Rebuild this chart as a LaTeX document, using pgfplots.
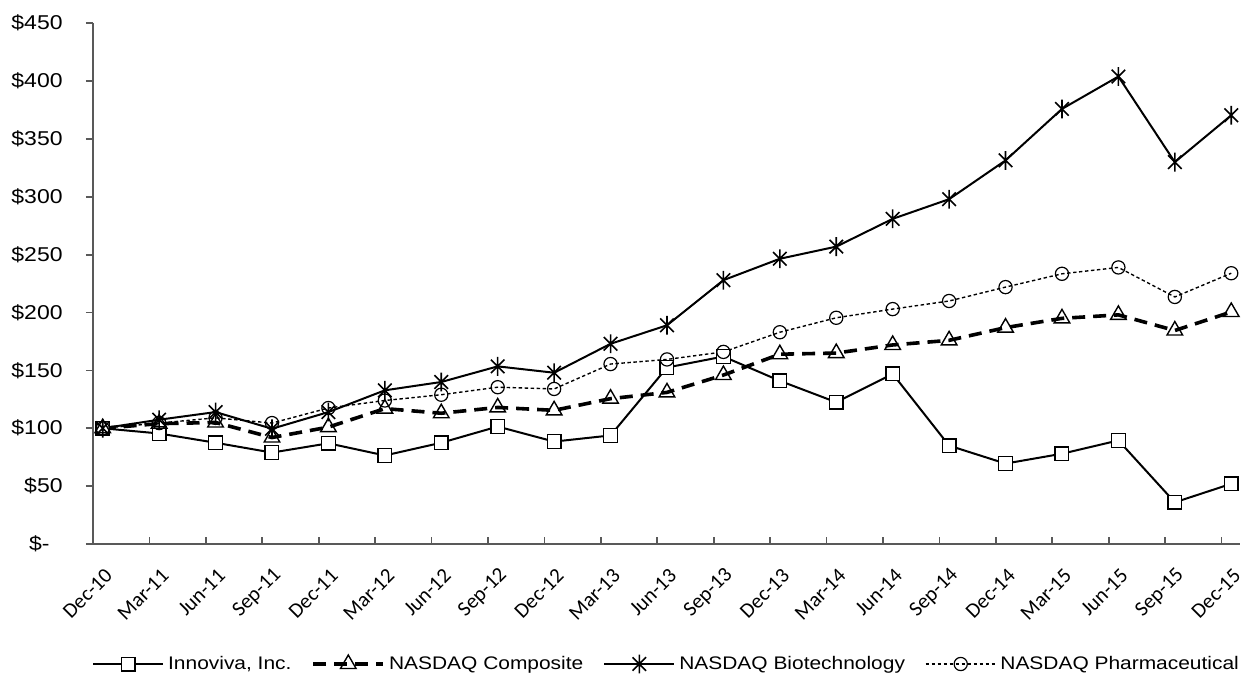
\documentclass[border=0pt]{standalone}
\usepackage{pgfplots}
\pgfplotsset{compat=1.18}
\usepackage{fontspec}
\setmainfont{Liberation Sans}
\newfontfamily\widesans[FakeStretch=1.15]{Liberation Sans}
\newfontfamily\carl{Carlito}
\definecolor{axisgray}{HTML}{595959}
% Excel-style star: a vertical bar crossed by an X
\pgfdeclareplotmark{xstar}{%
  \pgfpathmoveto{\pgfqpoint{0pt}{\pgfplotmarksize}}%
  \pgfpathlineto{\pgfqpoint{0pt}{-\pgfplotmarksize}}%
  \pgfpathmoveto{\pgfqpoint{-0.72\pgfplotmarksize}{0.72\pgfplotmarksize}}%
  \pgfpathlineto{\pgfqpoint{0.72\pgfplotmarksize}{-0.72\pgfplotmarksize}}%
  \pgfpathmoveto{\pgfqpoint{-0.72\pgfplotmarksize}{-0.72\pgfplotmarksize}}%
  \pgfpathlineto{\pgfqpoint{0.72\pgfplotmarksize}{0.72\pgfplotmarksize}}%
  \pgfusepathqstroke}

\begin{document}
\begin{tikzpicture}
\begin{axis}[
    at={(0,0)}, anchor=south west,
    scale only axis,
    width=573.5pt, height=260.35pt,
    xmin=-0.172, xmax=20.155,
    ymin=0, ymax=450,
    axis x line*=bottom, axis y line*=left,
    axis line style={axisgray, line width=1pt},
    tick align=inside,
    major tick length=3.5pt,
    every tick/.style={axisgray, line width=0.9pt},
    ytick style={xshift=-3.5pt},
    xtick={-0.172,0.828,1.828,2.828,3.828,4.828,5.828,6.828,7.828,8.828,9.828,10.828,11.828,12.828,13.828,14.828,15.828,16.828,17.828,18.828,19.828},
    xticklabels={Dec-10,Mar-11,Jun-11,Sep-11,Dec-11,Mar-12,Jun-12,Sep-12,Dec-12,Mar-13,Jun-13,Sep-13,Dec-13,Mar-14,Jun-14,Sep-14,Dec-14,Mar-15,Jun-15,Sep-15,Dec-15},
    xticklabel style={xshift=8pt, yshift=-14pt, rotate=45, anchor=east, inner sep=0pt,
        font=\carl\fontsize{10.5}{12}\selectfont},
    ytick={0,50,...,450},
    yticklabels={\$-\hspace*{6.5pt},\$50,\$100,\$150,\$200,\$250,\$300,\$350,\$400,\$450},
    yticklabel style={inner sep=0pt, xshift=-15pt, font=\widesans\fontsize{10}{12}\selectfont},
    legend columns=4,
    legend style={at={(0.5009,-0.2305)}, anchor=center, draw=none,
        font=\widesans\fontsize{9.1}{11}\selectfont,
        /tikz/every even column/.append style={column sep=8pt}},
    legend image code/.code={\draw[mark repeat=2,mark phase=2,#1] plot coordinates {(0pt,0pt) (17.5pt,0pt) (35pt,0pt)};},
]
\addplot[black, line width=1pt, mark=square*, mark size=3.4pt,
    mark options={solid, fill=white, line width=0.7pt}]
    coordinates {(0,100) (1,95.5) (2,87.5) (3,79) (4,87) (5,76.5) (6,87.5) (7,101.5) (8,88.5) (9,93.8) (10,152.5) (11,162) (12,141) (13,122.5) (14,147) (15,85) (16,69.5) (17,78) (18,89.5) (19,36) (20,52)};
\addlegendentry{Innoviva, Inc.}
\addplot[black, line width=1.8pt, dash pattern=on 6.5pt off 4pt, mark=triangle, mark size=4.5pt,
    mark options={solid, line width=0.7pt}]
    coordinates {(0,100) (1,104) (2,105) (3,92) (4,101) (5,117) (6,113) (7,118) (8,115.5) (9,125.6) (10,131) (11,146) (12,164) (13,165) (14,172) (15,176) (16,187) (17,195) (18,198) (19,184.5) (20,200.5)};
\addlegendentry{NASDAQ Composite}
\addplot[black, line width=1pt, mark=xstar, mark size=4.7pt,
    mark options={solid, line width=0.8pt}]
    coordinates {(0,100) (1,107.4) (2,114) (3,99.6) (4,114) (5,132.8) (6,140) (7,153.5) (8,148) (9,173) (10,189) (11,228) (12,246.5) (13,257) (14,281) (15,298) (16,331.5) (17,376) (18,404) (19,330) (20,370.5)};
\addlegendentry{NASDAQ Biotechnology}
\addplot[black, line width=0.7pt, dash pattern=on 1.7pt off 1.3pt, mark=o, mark size=3.3pt,
    mark options={solid, line width=0.6pt}]
    coordinates {(0,100) (1,104.5) (2,109) (3,104.5) (4,117.5) (5,124) (6,129) (7,135.5) (8,134) (9,155.5) (10,159.5) (11,166) (12,183) (13,195.5) (14,203) (15,210) (16,222) (17,233.5) (18,239) (19,213.5) (20,234)};
\addlegendentry{NASDAQ Pharmaceutical}
\end{axis}
\pgfresetboundingbox
\path (-46.5pt,-72pt) rectangle (578.5pt,272pt);
\end{tikzpicture}
\end{document}
